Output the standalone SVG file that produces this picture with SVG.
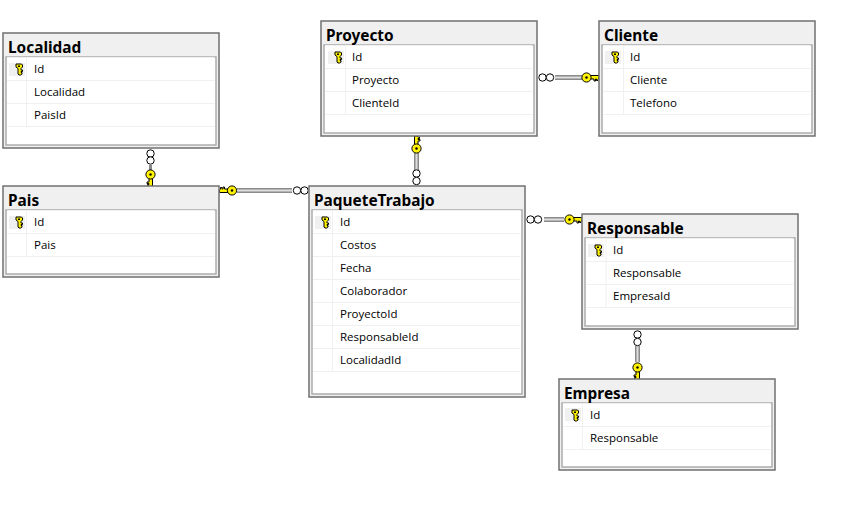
<svg xmlns="http://www.w3.org/2000/svg" width="853" height="510" viewBox="0 0 853 510">
<style>
.outer{fill:#f0f0f0;stroke:#707070;stroke-width:1.500}
.inner{fill:#fff;stroke:#acacac;stroke-width:1.500}
.sep{stroke:#f0f0f0;stroke-width:1;fill:none}
.kc{fill:#f0f0f0}
.t{font-family:"Noto Sans","Open Sans",sans-serif;font-weight:700;font-size:15.400px;fill:#000}
.r{font-family:"Open Sans","Noto Sans",sans-serif;font-size:11.500px;fill:#000}
.k{fill:#fff200;stroke:#000;stroke-width:1}
.d{fill:#000}
.ring{fill:#fff;stroke:#000;stroke-width:1}
.lo{stroke:#8a8a8a;stroke-width:5;fill:none}
.li{stroke:#dedede;stroke-width:2;fill:none}
</style>
<defs>
<g id="ik"><path class="k" d="M-3-5H2.500L3.500-4V-2L2-.5V1H3.500V2.500H2V3.500H3V5L1.500 6H0L-1 5V-.5L-3-2V-4Z"/><rect class="d" x="-1" y="-3.500" width="2" height="1.500"/></g>
<g id="fk"><path class="k" d="M4-2H12.500V.500L11.500 1.500V3H10V1.500H9V3.500H7.500V1.500H4Z"/><circle class="k" cx="0" cy="0" r="4.600"/><circle class="d" cx="0" cy="0" r="1.200"/></g>
</defs>
<g id="connectors">
<g id="c-localidad-pais"><path class="lo" style="stroke-width:3" d="M150.500 165V170"/><circle class="ring" cx="150.500" cy="153.500" r="3.700"/><circle class="ring" cx="150.500" cy="160.500" r="3.700"/><use href="#fk" transform="translate(150.500 174.500) rotate(90)"/></g>
<g id="c-proyecto-cliente"><path class="lo" d="M555 77.500H582"/><path class="li" d="M555 77.500H582"/><circle class="ring" cx="542.500" cy="77.500" r="3.700"/><circle class="ring" cx="550" cy="77.500" r="3.700"/><use href="#fk" transform="translate(586.500 77.500)"/></g>
<g id="c-pais-paquete"><path class="lo" d="M237 190.500H292"/><path class="li" d="M237 190.500H292"/><circle class="ring" cx="297" cy="190.500" r="3.700"/><circle class="ring" cx="304.500" cy="190.500" r="3.700"/><use href="#fk" transform="translate(232 190.500) rotate(180)"/></g>
<g id="c-proyecto-paquete"><path class="lo" d="M416.500 153V170"/><path class="li" d="M416.500 153V170"/><circle class="ring" cx="416.500" cy="173.500" r="3.700"/><circle class="ring" cx="416.500" cy="181" r="3.700"/><use href="#fk" transform="translate(416.500 148.500) rotate(-90)"/></g>
<g id="c-paquete-responsable"><path class="lo" d="M544 219.500H564"/><path class="li" d="M544 219.500H564"/><circle class="ring" cx="530.500" cy="219.500" r="3.700"/><circle class="ring" cx="538" cy="219.500" r="3.700"/><use href="#fk" transform="translate(569.500 219.500)"/></g>
<g id="c-responsable-empresa"><path class="lo" d="M637.500 346V362"/><path class="li" d="M637.500 346V362"/><circle class="ring" cx="637.500" cy="334.500" r="3.700"/><circle class="ring" cx="637.500" cy="342" r="3.700"/><use href="#fk" transform="translate(637.500 367.500) rotate(90)"/></g>
</g>
<g id="localidad">
<rect class="outer" x="3" y="33" width="216" height="115"/><rect class="inner" x="6" y="57" width="210" height="88"/>
<path class="sep" d="M7 57.500H214.500M7 80.500H214.500M7 103.500H214.500M7 126.500H214.500M26.500 58V126"/><rect class="kc" x="9" y="63" width="16" height="13"/><use href="#ik" x="19" y="69"/>
<text class="t" x="8" y="53">Localidad</text><text class="r" x="34" y="73">Id</text><text class="r" x="34" y="96">Localidad</text><text class="r" x="34" y="119">PaisId</text>
</g>
<g id="pais">
<rect class="outer" x="3" y="186" width="216" height="91"/><rect class="inner" x="6" y="210" width="210" height="64"/>
<path class="sep" d="M7 210.500H214.500M7 233.500H214.500M7 256.500H214.500M26.500 211V256"/><rect class="kc" x="9" y="216" width="16" height="13"/><use href="#ik" x="19" y="222"/>
<text class="t" x="8" y="206">Pais</text><text class="r" x="34" y="226">Id</text><text class="r" x="34" y="249">Pais</text>
</g>
<g id="proyecto">
<rect class="outer" x="321" y="21" width="216" height="115"/><rect class="inner" x="324" y="45" width="210" height="88"/>
<path class="sep" d="M325 45.500H532.500M325 68.500H532.500M325 91.500H532.500M325 114.500H532.500M345.500 46V114"/><rect class="kc" x="328" y="51" width="16" height="13"/><use href="#ik" x="338" y="57"/>
<text class="t" x="326" y="41">Proyecto</text><text class="r" x="352" y="61">Id</text><text class="r" x="352" y="84">Proyecto</text><text class="r" x="352" y="107">ClienteId</text>
</g>
<g id="cliente">
<rect class="outer" x="599" y="21" width="216" height="115"/><rect class="inner" x="602" y="45" width="210" height="88"/>
<path class="sep" d="M603 45.500H810.500M603 68.500H810.500M603 91.500H810.500M603 114.500H810.500M623.500 46V114"/><rect class="kc" x="605" y="51" width="16" height="13"/><use href="#ik" x="615" y="57"/>
<text class="t" x="604" y="41">Cliente</text><text class="r" x="630" y="61">Id</text><text class="r" x="630" y="84">Cliente</text><text class="r" x="630" y="107">Telefono</text>
</g>
<g id="paquetetrabajo">
<rect class="outer" x="309" y="186" width="216" height="211"/><rect class="inner" x="312" y="210" width="210" height="184"/>
<path class="sep" d="M313 210.500H520.500M313 233.500H520.500M313 256.500H520.500M313 279.500H520.500M313 302.500H520.500M313 325.500H520.500M313 348.500H520.500M313 371.500H520.500M332.500 211V371"/><rect class="kc" x="315" y="216" width="16" height="13"/><use href="#ik" x="325" y="222"/>
<text class="t" x="314" y="206">PaqueteTrabajo</text><text class="r" x="340" y="226">Id</text><text class="r" x="340" y="249">Costos</text><text class="r" x="340" y="272">Fecha</text><text class="r" x="340" y="295">Colaborador</text><text class="r" x="340" y="318">ProyectoId</text><text class="r" x="340" y="341">ResponsableId</text><text class="r" x="340" y="364">LocalidadId</text>
</g>
<g id="responsable">
<rect class="outer" x="582" y="214" width="216" height="115"/><rect class="inner" x="585" y="238" width="210" height="88"/>
<path class="sep" d="M586 238.500H793.500M586 261.500H793.500M586 284.500H793.500M586 307.500H793.500M606 239V307"/><rect class="kc" x="588" y="244" width="16" height="13"/><use href="#ik" x="598" y="250"/>
<text class="t" x="587" y="234">Responsable</text><text class="r" x="613" y="254">Id</text><text class="r" x="613" y="277">Responsable</text><text class="r" x="613" y="300">EmpresaId</text>
</g>
<g id="empresa">
<rect class="outer" x="559" y="379" width="216" height="91"/><rect class="inner" x="562" y="403" width="210" height="64"/>
<path class="sep" d="M563 403.500H770.500M563 426.500H770.500M563 449.500H770.500M582.500 404V449"/><rect class="kc" x="565" y="408" width="16" height="13"/><use href="#ik" x="575" y="415"/>
<text class="t" x="564" y="399">Empresa</text><text class="r" x="590" y="419">Id</text><text class="r" x="590" y="442">Responsable</text>
</g>
</svg>
